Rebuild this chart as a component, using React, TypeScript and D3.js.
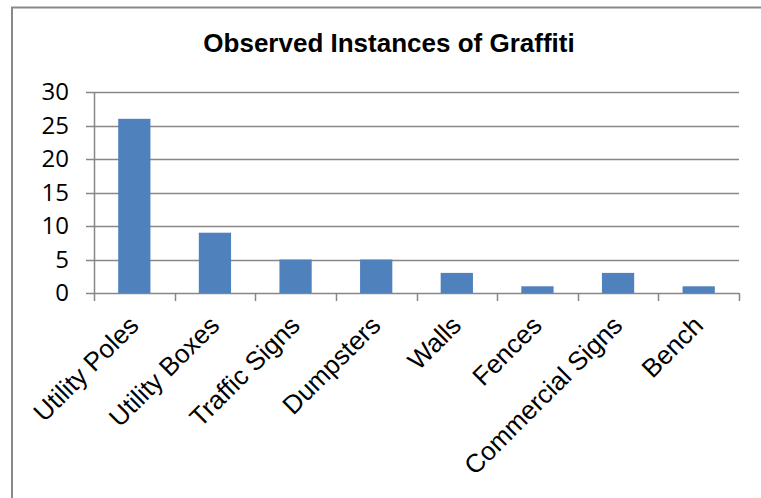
import * as d3 from "d3";
import { useRef, useEffect } from "react";

const categories = ["Utility Poles", "Utility Boxes", "Traffic Signs", "Dumpsters", "Walls", "Fences", "Commercial Signs", "Bench"];
const counts = [26, 9, 5, 5, 3, 1, 3, 1];
const yTicks = [0, 5, 10, 15, 20, 25, 30];
const title = "Observed Instances of Graffiti";

export default function App() {
  const ref = useRef<SVGSVGElement>(null);

  useEffect(() => {
    const width = 761;
    const height = 498;
    const svg = d3.select(ref.current);
    svg.selectAll("*").remove();
    svg.attr("width", width).attr("height", height);

    svg.append("rect").attr("width", width).attr("height", height).attr("fill", "#fff");

    // chart area border (top + left visible)
    svg.append("path")
      .attr("d", `M12,${height + 2}V7.5H${width + 2}`)
      .attr("fill", "none")
      .attr("stroke", "#898989")
      .attr("stroke-width", 2);

    const left = 94, right = 739, top = 92, bottom = 293;

    const x = d3.scaleBand().domain(categories).range([left, right]).paddingInner(0.6).paddingOuter(0.3);
    const xb = d3.scaleBand().domain(categories).range([left, right]);
    const y = d3.scaleLinear().domain([0, 30]).range([bottom, top]);

    // gridlines
    svg.append("g")
      .selectAll("line")
      .data(yTicks)
      .enter()
      .append("line")
      .attr("x1", left - 8)
      .attr("x2", right)
      .attr("y1", d => Math.round(y(d)) + 0.5)
      .attr("y2", d => Math.round(y(d)) + 0.5)
      .attr("stroke", "#878787")
      .attr("stroke-width", 1.5);

    // y axis line
    svg.append("line")
      .attr("x1", left + 0.5).attr("x2", left + 0.5)
      .attr("y1", top).attr("y2", bottom + 8)
      .attr("stroke", "#878787").attr("stroke-width", 1.5);

    // x category ticks
    svg.append("g")
      .selectAll("line")
      .data(categories.slice(1).concat(["__end"]))
      .enter()
      .append("line")
      .attr("x1", (d, i) => Math.round(i < categories.length - 1 ? xb(d)! : right) + 0.5)
      .attr("x2", (d, i) => Math.round(i < categories.length - 1 ? xb(d)! : right) + 0.5)
      .attr("y1", bottom)
      .attr("y2", bottom + 8)
      .attr("stroke", "#878787")
      .attr("stroke-width", 1.5);

    // bars
    svg.append("g")
      .selectAll("rect")
      .data(counts)
      .enter()
      .append("rect")
      .attr("x", (d, i) => x(categories[i])!)
      .attr("width", x.bandwidth())
      .attr("y", d => y(d))
      .attr("height", d => bottom - y(d))
      .attr("fill", "#4F81BD");

    // y tick labels
    svg.append("g")
      .selectAll("text")
      .data(yTicks)
      .enter()
      .append("text")
      .text(d => d)
      .attr("x", 69)
      .attr("y", d => y(d) + 8)
      .attr("text-anchor", "end")
      .style("font-family", "'Open Sans', sans-serif")
      .style("font-size", "24px")
      .style("fill", "#000");

    // x labels, rotated
    svg.append("g")
      .selectAll("text")
      .data(categories)
      .enter()
      .append("text")
      .text(d => d)
      .attr("transform", d => `translate(${xb(d)! + xb.bandwidth() / 2 + 6}, ${bottom + 34}) rotate(-45)`)
      .attr("text-anchor", "end")
      .style("font-family", "'Liberation Sans', Arial, sans-serif")
      .style("font-size", "26px")
      .style("fill", "#000");

    svg.append("text")
      .text(title)
      .attr("x", 389)
      .attr("y", 52)
      .attr("text-anchor", "middle")
      .style("font-family", "'Liberation Sans', Arial, sans-serif")
      .style("font-weight", "bold")
      .style("font-size", "26px")
      .style("fill", "#000");
  }, []);

  return <svg ref={ref} style={{ position: "absolute", left: 0, top: 0, display: "block" }}></svg>;
}
